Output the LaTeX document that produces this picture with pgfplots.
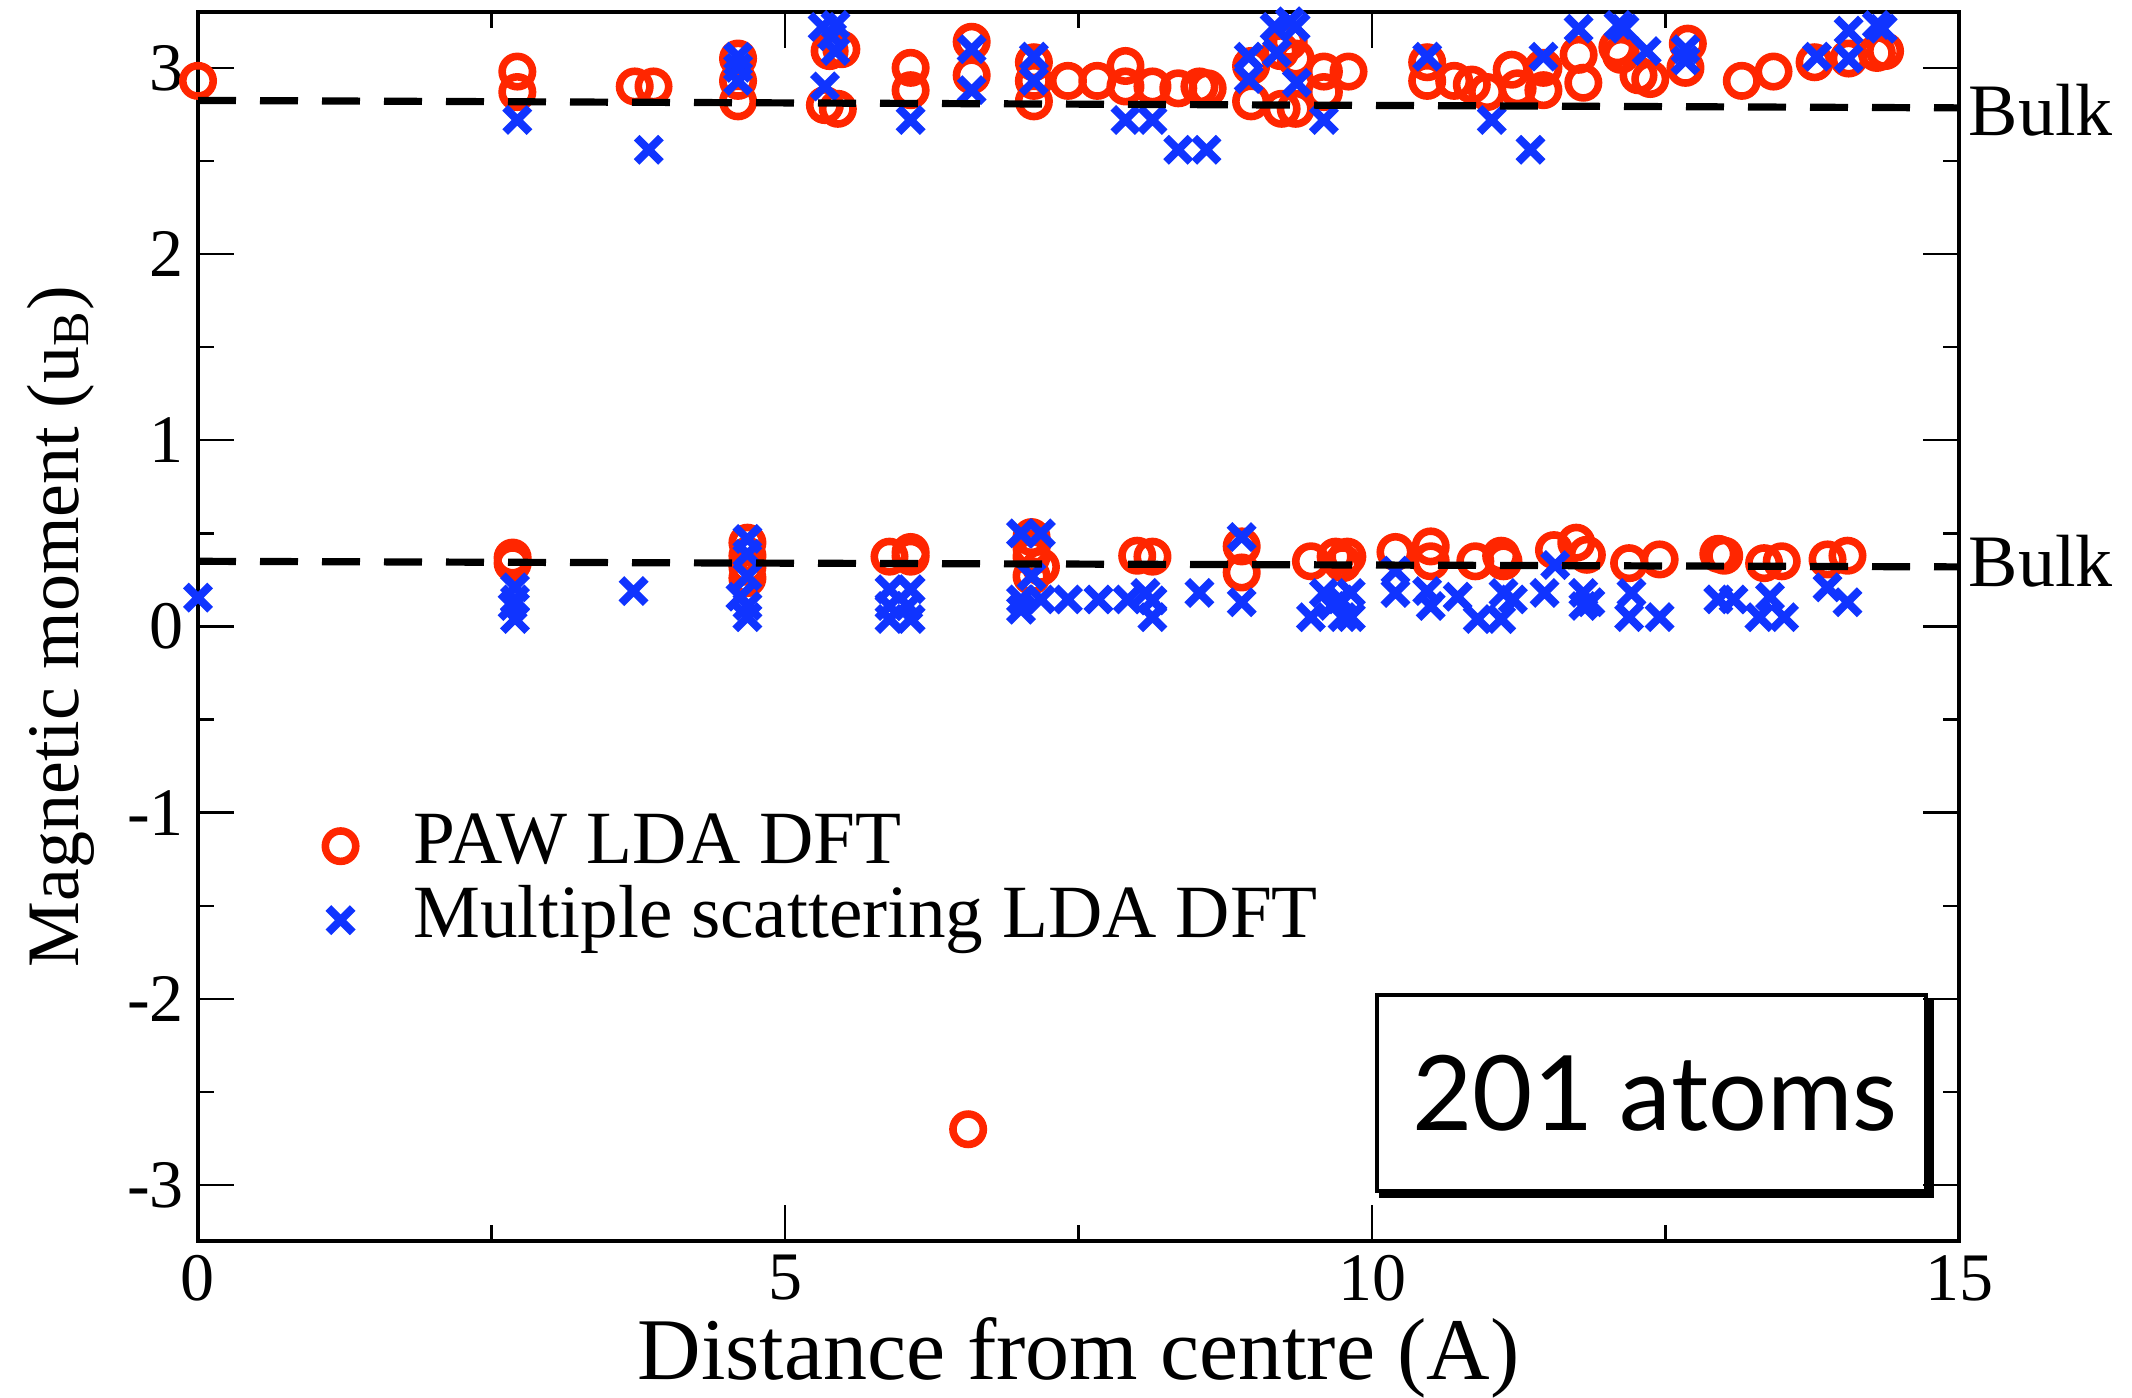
\documentclass[border=0pt]{standalone}
\usepackage{pgfplots}
\pgfplotsset{compat=1.18}
\usepackage{fontspec}
\setmainfont{Liberation Serif}
\newfontfamily\boxfont{Lato}
\definecolor{pawred}{RGB}{255,38,0}
\definecolor{msblue}{RGB}{16,52,255}
\begin{document}
\begin{tikzpicture}
\begin{axis}[
  scale only axis,
  width=440.25pt, height=307.25pt,
  xmin=0, xmax=15, ymin=-3.3, ymax=3.3,
  xtick={0,5,10,15}, ytick={-3,-2,-1,0,1,2,3},
  minor x tick num=1, minor y tick num=1,
  major tick length=9pt, minor tick length=4pt,
  every tick/.style={black, line width=0.6pt},
  axis line style={line width=0.8pt},
  tick label style={font=\fontsize{17}{17}\selectfont},
  /pgf/number format/assume math mode=true,
  xlabel={Distance from centre (A)},
  ylabel={Magnetic moment (u\textsubscript{B})},
  xlabel style={font=\fontsize{22}{22}\selectfont, at={(axis description cs:0.5,-0.1123)}, anchor=base},
  ylabel style={font=\fontsize{18.5}{18.5}\selectfont, at={(axis description cs:-0.0681,0.5)}, anchor=base},
  clip mode=individual,
  legend image code/.code={\draw[#1] plot coordinates {(0pt,0pt)}; \path (-9pt,0pt) (18pt,0pt);},
  legend style={draw=none, fill=none, inner sep=0pt, at={(axis description cs:0.0596,0.352)}, anchor=north west,
    font=\fontsize{18.8}{18.8}\selectfont,
    nodes={text height=13pt, text depth=4.5pt, inner ysep=0.5pt, inner xsep=0pt}},
  legend cell align=left,
]
\addplot[only marks, mark=o, mark size=3.8pt, pawred, mark options={line width=1.9pt}] coordinates {
(0,2.93)
(2.72,2.98) (2.72,2.87)
(3.72,2.90) (3.88,2.90)
(4.60,3.05) (4.60,2.93) (4.60,2.82)
(5.38,3.09) (5.48,3.10) (5.34,2.80) (5.45,2.78)
(6.07,3.00) (6.07,2.88)
(6.59,3.14) (6.59,2.96)
(7.12,3.03) (7.12,2.93) (7.12,2.82)
(7.41,2.93) (7.66,2.93) (7.90,3.01) (7.90,2.90) (8.13,2.90) (8.35,2.89) (8.53,2.90) (8.60,2.89)
(8.97,3.01) (8.97,2.82) (9.22,3.09) (9.29,3.14) (9.35,3.05) (9.23,2.78) (9.35,2.78)
(9.59,2.98) (9.59,2.87) (9.80,2.98)
(10.47,3.03) (10.47,2.93) (10.70,2.93) (10.85,2.91) (10.98,2.87) (11.19,2.99) (11.24,2.89) (11.46,3.00) (11.46,2.88)
(11.76,3.07) (11.80,2.92) (12.09,3.11) (12.12,3.07) (12.27,2.96) (12.37,2.94) (12.69,3.13) (12.67,3.00)
(13.15,2.93) (13.42,2.98) (13.77,3.03) (14.06,3.05) (14.30,3.08) (14.37,3.09)
(6.56,-2.70)
(2.68,0.37) (2.68,0.34)
(4.68,0.45) (4.68,0.38) (4.68,0.32) (4.68,0.26)
(5.89,0.375) (6.07,0.375) (6.07,0.40)
(7.10,0.48) (7.10,0.42) (7.10,0.375) (7.10,0.27) (7.18,0.32)
(8.00,0.38) (8.13,0.375)
(8.89,0.43) (8.89,0.29)
(9.48,0.35) (9.69,0.375) (9.79,0.375) (9.75,0.34)
(10.20,0.40) (10.50,0.43) (10.50,0.35) (10.88,0.35) (11.10,0.38) (11.12,0.35)
(11.55,0.41) (11.74,0.45) (11.83,0.385) (12.19,0.34) (12.45,0.36) (12.95,0.39) (13.00,0.38) (13.34,0.34) (13.49,0.35) (13.88,0.36) (14.05,0.38)
};
\addlegendentry{PAW LDA DFT}
\addplot[only marks, mark=x, mark size=4.3pt, msblue, mark options={line width=2pt}] coordinates {
(2.72,2.72)
(3.84,2.56)
(4.60,3.06) (4.60,2.93) (4.60,3.00)
(5.34,2.90) (5.32,3.22) (5.43,3.23) (5.43,3.09) (5.40,3.17)
(6.07,2.72)
(6.59,3.10) (6.59,2.88)
(7.12,3.06) (7.12,2.93)
(7.90,2.72) (8.13,2.72) (8.35,2.56) (8.59,2.56)
(8.95,3.06) (8.95,2.94) (9.19,3.08) (9.17,3.22) (9.35,3.22) (9.30,3.25) (9.36,2.92)
(9.59,2.72)
(10.47,3.06)
(11.02,2.72) (11.35,2.56) (11.46,3.06)
(11.76,3.21) (12.10,3.23) (12.15,3.21) (12.34,3.09) (12.67,3.10) (12.67,3.04)
(13.79,3.06) (14.06,3.20) (14.06,3.05) (14.30,3.23) (14.35,3.21)
(0,0.155)
(2.70,0.21) (2.70,0.145) (2.68,0.11) (2.70,0.04)
(3.71,0.19)
(4.68,0.47) (4.68,0.39) (4.68,0.27) (4.62,0.16) (4.68,0.11) (4.68,0.05)
(5.89,0.20) (6.07,0.20) (5.89,0.11) (6.05,0.11) (5.89,0.04) (6.07,0.04)
(7.01,0.50) (7.18,0.50) (7.10,0.27) (7.01,0.145) (7.18,0.145) (7.01,0.09)
(7.41,0.145) (7.67,0.145) (7.92,0.145) (8.07,0.18) (8.13,0.05) (8.13,0.14)
(8.53,0.18)
(8.89,0.48) (8.89,0.13)
(9.48,0.05) (9.59,0.18) (9.73,0.145) (9.75,0.05) (9.82,0.05) (9.82,0.18) (9.66,0.11)
(10.20,0.30) (10.20,0.18) (10.47,0.19) (10.50,0.11) (10.73,0.16) (10.90,0.04) (11.10,0.04) (11.12,0.18) (11.20,0.145) (11.47,0.18)
(11.56,0.33) (11.80,0.18) (11.80,0.11) (11.86,0.13) (12.21,0.18) (12.19,0.05) (12.45,0.05) (12.95,0.145) (13.08,0.145) (13.39,0.16) (13.30,0.05) (13.51,0.05) (13.88,0.21) (14.05,0.13)
};
\addlegendentry{Multiple scattering LDA DFT}
\addplot[forget plot, black, line width=1.8pt, dash pattern=on 9.5pt off 6pt] coordinates {(0,2.825) (15,2.785)};
\addplot[forget plot, black, line width=1.8pt, dash pattern=on 9.5pt off 6pt] coordinates {(0,0.35) (15,0.32)};
\node[anchor=base west, inner sep=0pt, xshift=2.25pt, font=\fontsize{18.5}{18.5}\selectfont] at (axis cs:15,2.634) {Bulk};
\node[anchor=base west, inner sep=0pt, xshift=2.25pt, font=\fontsize{18.5}{18.5}\selectfont] at (axis cs:15,0.214) {Bulk};
\draw[line width=1.1pt] (axis cs:10.04,-1.98) rectangle (axis cs:14.72,-3.03);
\draw[line width=1.3pt] ([yshift=-1.2pt]axis cs:10.06,-3.03) -- ([xshift=1.2pt, yshift=-1.2pt]axis cs:14.72,-3.03) -- ([xshift=1.2pt]axis cs:14.72,-2.0);
\node[font=\boxfont\fontsize{26}{26}\selectfont] at (axis cs:12.41,-2.505) {201 atoms};
\end{axis}
\pgfresetboundingbox
\path[use as bounding box] (-49.5pt,-39.25pt) rectangle (483.5pt,310.25pt);
\end{tikzpicture}
\end{document}
